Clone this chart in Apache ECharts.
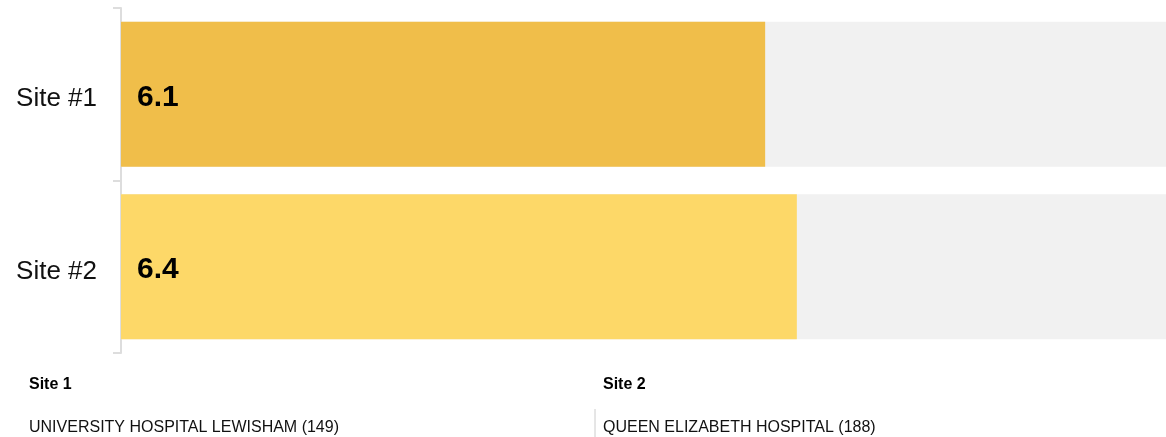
<!DOCTYPE html>
<html>
<head>
<meta charset="utf-8">
<style>
  html, body { margin: 0; padding: 0; background: #fff; }
  #chart { width: 1166px; height: 437px; }
</style>
<script src="https://cdn.jsdelivr.net/npm/echarts@6/dist/echarts.min.js"></script>
</head>
<body>
<div id="chart"></div>
<script>
const categories = ['Site #1', 'Site #2'];
const scores = [6.1, 6.4];
const barColors = ['#F0BE4A', '#FDD868'];
const scaleMax = 10;
const siteHeadings = ['Site 1', 'Site 2'];
const siteNames = ['UNIVERSITY HOSPITAL LEWISHAM (149)', 'QUEEN ELIZABETH HOSPITAL (188)'];

const FONT = '"Liberation Sans", Arial, sans-serif';
const chart = echarts.init(document.getElementById('chart'), null, { renderer: 'canvas' });

const headingX = [29, 603];
const graphics = [];
siteHeadings.forEach((h, i) => {
  graphics.push({
    type: 'text', left: headingX[i], top: 377,
    style: { text: h, font: 'bold 16px ' + FONT, fill: '#000' }
  });
  graphics.push({
    type: 'text', left: headingX[i], top: 420,
    style: { text: siteNames[i], font: '16px ' + FONT, fill: '#111' }
  });
});
graphics.push({
  type: 'line', shape: { x1: 595, y1: 409, x2: 595, y2: 437 },
  style: { stroke: '#cccccc', lineWidth: 1 }
});

chart.setOption({
  animation: false,
  grid: { left: 121, top: 8, width: 1056, height: 345, containLabel: false, outerBoundsMode: 'none' },
  xAxis: {
    type: 'value', min: 0, max: scaleMax, show: false
  },
  yAxis: {
    type: 'category', data: categories, inverse: true,
    axisLine: { show: true, lineStyle: { color: '#dddddd', width: 2 } },
    axisTick: { show: true, length: 8, lineStyle: { color: '#dddddd', width: 2 } },
    axisLabel: {
      margin: 24,
      formatter: v => '{c|' + v + '}',
      rich: { c: { color: '#111', fontSize: 26, fontFamily: FONT, padding: [10, 0, 0, 0] } }
    }
  },
  series: [{
    type: 'bar',
    barWidth: 145,
    showBackground: true,
    backgroundStyle: { color: '#F1F1F1' },
    data: scores.map((v, i) => ({ value: v, itemStyle: { color: barColors[i] } })),
    label: {
      show: true, position: 'insideLeft', distance: 16, offset: [0, 3],
      formatter: p => p.value.toFixed(1),
      color: '#000', fontSize: 30, fontWeight: 'bold', fontFamily: FONT
    }
  }],
  graphic: graphics
});
</script>
</body>
</html>
